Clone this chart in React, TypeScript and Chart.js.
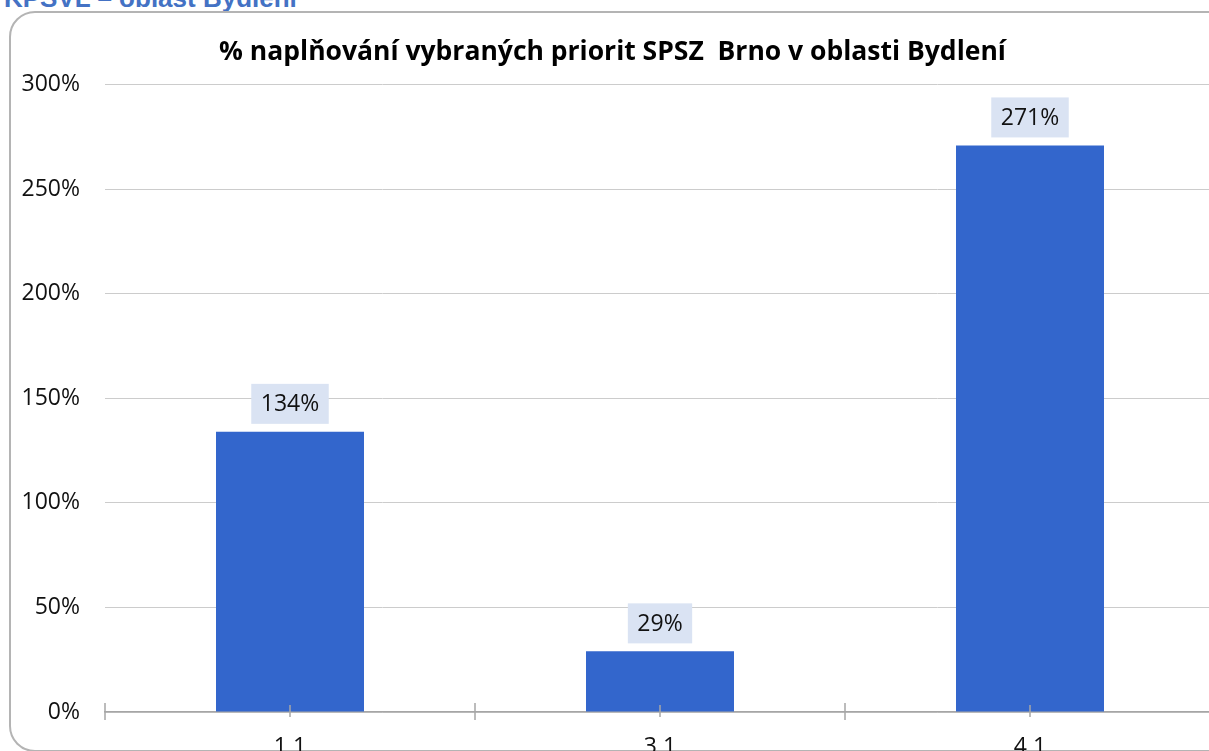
import React, { useEffect, useRef } from "react";
import { Chart, registerables } from "chart.js";

Chart.register(...registerables);

const HEADER = "KPSVL – oblast Bydlení";
const TITLE = "% naplňování vybraných priorit SPSZ  Brno v oblasti Bydlení";
const categories = ["1.1", "3.1", "4.1"];
const values = [134, 29, 271];
const yMin = 0;
const yMax = 300;
const yStep = 50;

const CANVAS_W = 1240;
const CANVAS_H = 800;

const labelPlugin = {
  id: "barValueLabels",
  afterDatasetsDraw(chart: any) {
    const ctx = chart.ctx;
    const meta = chart.getDatasetMeta(0);
    ctx.save();
    ctx.font = "23px 'Open Sans'";
    ctx.textAlign = "center";
    ctx.textBaseline = "middle";
    meta.data.forEach((bar: any, i: number) => {
      const text = values[i] + "%";
      const w = ctx.measureText(text).width + 19;
      const h = 40;
      const bottom = bar.y - 8;
      ctx.fillStyle = "#dae3f3";
      ctx.fillRect(bar.x - w / 2, bottom - h, w, h);
      ctx.fillStyle = "#111";
      ctx.fillText(text, bar.x, bottom - h / 2 + 1);
    });
    ctx.restore();
  },
};

const tickPlugin = {
  id: "crossTicks",
  afterDraw(chart: any) {
    const ctx = chart.ctx;
    const xs = chart.scales.x;
    const yb = chart.chartArea.bottom;
    ctx.save();
    ctx.strokeStyle = "#a6a6a6";
    ctx.lineWidth = 1.5;
    ctx.beginPath();
    for (let i = 0; i <= categories.length; i++) {
      const px = xs.getPixelForValue(i - 0.5);
      ctx.moveTo(px, yb - 9);
      ctx.lineTo(px, yb + 8);
    }
    for (let i = 0; i < categories.length; i++) {
      const px = xs.getPixelForValue(i);
      ctx.moveTo(px, yb - 7);
      ctx.lineTo(px, yb + 5);
    }
    ctx.stroke();
    ctx.restore();
  },
};

export default function App() {
  const ref = useRef<HTMLCanvasElement | null>(null);
  useEffect(() => {
    if (!ref.current) return;
    const chart = new Chart(ref.current, {
      type: "bar",
      data: {
        labels: categories,
        datasets: [
          {
            data: values,
            backgroundColor: "#3366cc",
            categoryPercentage: 1,
            barPercentage: 0.4,
          },
        ],
      },
      options: {
        animation: false,
        responsive: false,
        devicePixelRatio: 1,
        layout: { padding: { left: 10, right: 25, top: 0, bottom: 0 } },
        plugins: {
          legend: { display: false },
          tooltip: { enabled: false },
          title: {
            display: true,
            text: TITLE,
            color: "#000",
            font: { family: "'Open Sans'", size: 26.5, weight: "bold", lineHeight: 1.2 },
            padding: { top: 37, bottom: 16 },
          },
        },
        scales: {
          x: {
            grid: { display: false },
            border: { display: true, color: "#a6a6a6", width: 1.5 },
            ticks: {
              color: "#111",
              font: { family: "'Open Sans'", size: 23 },
              padding: 14,
            },
            afterFit(scale: any) {
              scale.height = 88;
            },
          },
          y: {
            min: yMin,
            max: yMax,
            grid: { color: "#cccccc", lineWidth: 1, drawTicks: false },
            border: { display: false },
            ticks: {
              stepSize: yStep,
              color: "#111",
              font: { family: "'Open Sans'", size: 23 },
              padding: 25,
              callback: (v: any) => v + "%",
            },
            afterFit(scale: any) {
              scale.width = 95;
            },
          },
        },
      },
      plugins: [labelPlugin, tickPlugin],
    });
    return () => chart.destroy();
  }, []);

  return (
    <div
      style={{
        position: "absolute",
        left: 0,
        top: 0,
        width: 1209,
        height: 751,
        overflow: "hidden",
        background: "#fff",
      }}
    >
      <div
        style={{
          position: "absolute",
          left: 4,
          top: -15,
          fontFamily: "'Liberation Sans', Arial, sans-serif",
          fontWeight: "bold",
          fontSize: 26,
          lineHeight: "26px",
          color: "#4472c4",
          whiteSpace: "nowrap",
        }}
      >
        {HEADER}
      </div>
      <div
        style={{
          position: "absolute",
          left: 9,
          top: 11,
          width: 1230,
          height: 737,
          border: "2px solid #b4b4b4",
          borderRadius: 26,
        }}
      />
      <canvas
        ref={ref}
        width={CANVAS_W}
        height={CANVAS_H}
        style={{ position: "absolute", left: 0, top: 0, width: CANVAS_W, height: CANVAS_H }}
      />
    </div>
  );
}
